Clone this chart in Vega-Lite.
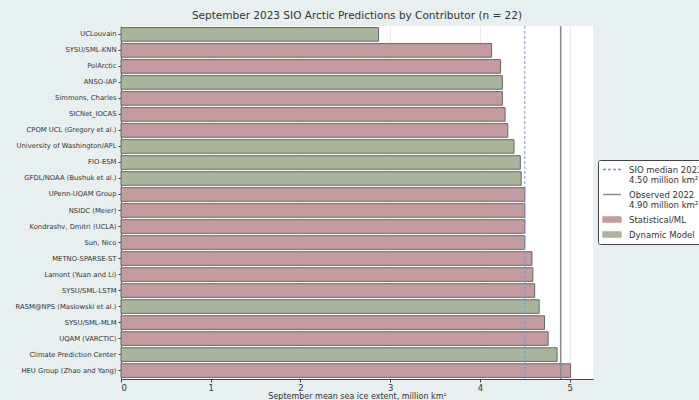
{
  "$schema": "https://vega.github.io/schema/vega-lite/v6.json",
  "autosize": {"type": "none"},
  "width": 472,
  "height": 353,
  "padding": {"left": 121, "top": 26, "right": 106, "bottom": 21},
  "background": "#e7eff1",
  "title": {
    "text": "September 2023 SIO Arctic Predictions by Contributor (n = 22)",
    "font": "DejaVu Sans",
    "fontSize": 10.5,
    "fontWeight": "normal",
    "color": "#333333",
    "offset": 4,
    "anchor": "middle"
  },
  "config": {
    "view": {"fill": "white", "stroke": null},
    "font": "DejaVu Sans"
  },
  "datasets": {
    "bars": [
      {"name": "UCLouvain", "extent": 2.87, "type": "Dynamic Model"},
      {"name": "SYSU/SML-KNN", "extent": 4.13, "type": "Statistical/ML"},
      {"name": "PolArctic", "extent": 4.23, "type": "Statistical/ML"},
      {"name": "ANSO-IAP", "extent": 4.25, "type": "Dynamic Model"},
      {"name": "Simmons, Charles", "extent": 4.25, "type": "Statistical/ML"},
      {"name": "SICNet_IOCAS", "extent": 4.28, "type": "Statistical/ML"},
      {"name": "CPOM UCL (Gregory et al.)", "extent": 4.31, "type": "Statistical/ML"},
      {"name": "University of Washington/APL", "extent": 4.38, "type": "Dynamic Model"},
      {"name": "FIO-ESM", "extent": 4.45, "type": "Dynamic Model"},
      {"name": "GFDL/NOAA (Bushuk et al.)", "extent": 4.46, "type": "Dynamic Model"},
      {"name": "UPenn-UQAM Group", "extent": 4.5, "type": "Statistical/ML"},
      {"name": "NSIDC (Meier)", "extent": 4.5, "type": "Statistical/ML"},
      {"name": "Kondrashv, Dmitri (UCLA)", "extent": 4.5, "type": "Statistical/ML"},
      {"name": "Sun, Nico", "extent": 4.5, "type": "Statistical/ML"},
      {"name": "METNO-SPARSE-ST", "extent": 4.58, "type": "Statistical/ML"},
      {"name": "Lamont (Yuan and Li)", "extent": 4.59, "type": "Statistical/ML"},
      {"name": "SYSU/SML-LSTM", "extent": 4.61, "type": "Statistical/ML"},
      {"name": "RASM@NPS (Maslowski et al.)", "extent": 4.66, "type": "Dynamic Model"},
      {"name": "SYSU/SML-MLM", "extent": 4.72, "type": "Statistical/ML"},
      {"name": "UQAM (VARCTIC)", "extent": 4.76, "type": "Statistical/ML"},
      {"name": "Climate Prediction Center", "extent": 4.86, "type": "Dynamic Model"},
      {"name": "HEU Group (Zhao and Yang)", "extent": 5.01, "type": "Statistical/ML"}
    ],
    "median": [{"type": "SIO median 2023|4.50 million km²", "extent": 4.5}],
    "observed": [{"type": "Observed 2022|4.90 million km²", "extent": 4.9}]
  },
  "layer": [
    {
      "data": {"name": "bars"},
      "mark": {"type": "bar", "stroke": "#666666", "strokeWidth": 1},
      "encoding": {
        "y": {
          "field": "name", "type": "nominal", "sort": null,
          "scale": {"paddingInner": 0.15, "paddingOuter": 0.1},
          "axis": {
            "title": null, "labelFontSize": 6.8, "labelColor": "#333333",
            "tickSize": 3, "tickColor": "#444444", "labelPadding": 2,
            "domainColor": "#444444", "domainWidth": 1, "grid": false, "labelLimit": 200
          }
        },
        "x": {
          "field": "extent", "type": "quantitative",
          "scale": {"domain": [0, 5.26], "nice": false, "zero": true},
          "axis": {
            "title": "September mean sea ice extent, million km²",
            "titleFontSize": 8, "titleFontWeight": "normal", "titleColor": "#333333",
            "titlePadding": 1,
            "values": [0, 1, 2, 3, 4, 5], "format": "d",
            "labelFontSize": 8.5, "labelColor": "#333333", "labelPadding": 1,
            "tickSize": 3, "tickColor": "#444444",
            "domainColor": "#444444", "domainWidth": 1,
            "grid": true, "gridColor": "#e4e4e4", "gridWidth": 0.8
          }
        },
        "color": {
          "field": "type", "type": "nominal",
          "scale": {
            "domain": ["SIO median 2023|4.50 million km²", "Observed 2022|4.90 million km²", "Statistical/ML", "Dynamic Model"],
            "range": ["#7b95d6", "#8c8c8c", "#c49b9f", "#a9b59a"]
          },
          "legend": {
            "title": null,
            "orient": "none",
            "legendX": 477,
            "legendY": 134,
            "fillColor": "white",
            "strokeColor": "#444444",
            "cornerRadius": 2,
            "padding": 4,
            "labelFont": "DejaVu Sans",
            "labelFontSize": 8.5,
            "labelColor": "#333333",
            "symbolOffset": 4.5,
            "labelOffset": 11.5,
            "labelLimit": 300,
            "rowPadding": 4,
            "symbolSize": 81,
            "symbolStrokeWidth": 1.4,
            "labelExpr": "split(datum.label, '|')",
            "encoding": {
              "symbols": {
                "shape": {"condition": {"test": "indexof(datum.value, '|') >= 0", "value": "M-2,0H2"}, "value": "M-2,-0.55H2V0.55H-2Z"},
                "strokeDash": {"condition": {"test": "indexof(datum.value, 'SIO') >= 0", "value": [3, 2]}, "value": [1, 0]}
              }
            }
          }
        }
      }
    },
    {
      "data": {"name": "median"},
      "mark": {"type": "rule", "strokeDash": [3, 2], "strokeWidth": 1},
      "encoding": {
        "x": {"field": "extent", "type": "quantitative"},
        "color": {"field": "type", "type": "nominal", "legend": null}
      }
    },
    {
      "data": {"name": "observed"},
      "mark": {"type": "rule", "strokeWidth": 1.6},
      "encoding": {
        "x": {"field": "extent", "type": "quantitative"},
        "color": {"field": "type", "type": "nominal", "legend": null}
      }
    }
  ]
}
